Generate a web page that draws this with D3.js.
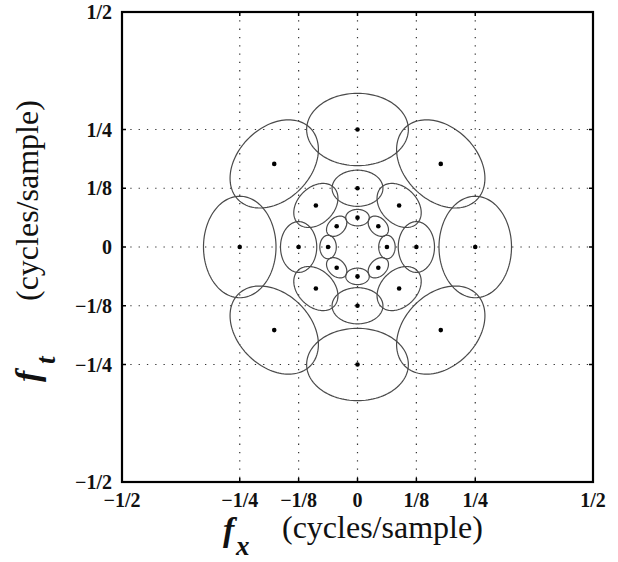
<!DOCTYPE html>
<html>
<head>
<meta charset="utf-8">
<script src="https://cdn.jsdelivr.net/npm/d3@7"></script>
<style>
  html, body { margin: 0; padding: 0; background: #fff; }
  svg { display: block; }
</style>
</head>
<body>
<svg id="chart" width="618" height="562"></svg>
<script>
// ---- data ----
const tickValues = [-0.5, -0.25, -0.125, 0, 0.125, 0.25, 0.5];
const tickLabels = ["\u22121/2", "\u22121/4", "\u22121/8", "0", "1/8", "1/4", "1/2"];
const gridValues = [-0.25, -0.125, 0, 0.125, 0.25];
const ringRadii = [1/16, 1/8, 1/4];            // distance of ellipse centres from origin
const radialSemiAxes = [0.0175, 0.0385, 0.077]; // semi-axis along the radius
const tangentialSemiAxes = [0.025, 0.054, 0.108]; // semi-axis across the radius
const centreAnglesDeg = [0, 45, 90, 135, 180, 225, 270, 315];
const xAxisLabel = { symbol: "f", sub: "x", text: "(cycles/sample)" };
const yAxisLabel = { symbol: "f", sub: "t", text: "(cycles/sample)" };

// ---- layout ----
const svg = d3.select("#chart");
const x = d3.scaleLinear().domain([-0.5, 0.5]).range([122, 593]);
const y = d3.scaleLinear().domain([-0.5, 0.5]).range([482, 12]);
const serif = "'Liberation Serif', 'Times New Roman', Times, serif";

// grid
const grid = svg.append("g").attr("stroke", "#333").attr("stroke-width", 1.2)
  .attr("stroke-dasharray", "1.3 7");
grid.selectAll("line.v").data(gridValues).join("line").attr("class", "v")
  .attr("x1", d => x(d)).attr("x2", d => x(d)).attr("y1", y(0.5)).attr("y2", y(-0.5));
grid.selectAll("line.h").data(gridValues).join("line").attr("class", "h")
  .attr("y1", d => y(d)).attr("y2", d => y(d)).attr("x1", x(-0.5)).attr("x2", x(0.5));

// ellipses
const items = [];
ringRadii.forEach((r, i) => {
  centreAnglesDeg.forEach(a => {
    items.push({ r, a: a * Math.PI / 180, ar: radialSemiAxes[i], at: tangentialSemiAxes[i] });
  });
});
const ts = d3.range(0, 361, 3).map(d => d * Math.PI / 180);
const line = d3.line().x(p => x(p[0])).y(p => y(p[1]));
function ellipsePts(it) {
  const cx = it.r * Math.cos(it.a), cy = it.r * Math.sin(it.a);
  const ur = [Math.cos(it.a), Math.sin(it.a)], ut = [-Math.sin(it.a), Math.cos(it.a)];
  return ts.map(t => [cx + it.ar * Math.cos(t) * ur[0] + it.at * Math.sin(t) * ut[0],
                      cy + it.ar * Math.cos(t) * ur[1] + it.at * Math.sin(t) * ut[1]]);
}
svg.append("g").attr("fill", "none").attr("stroke", "#4a4a4a").attr("stroke-width", 1.2)
  .selectAll("path").data(items).join("path").attr("d", d => line(ellipsePts(d)));
svg.append("g").attr("fill", "#000")
  .selectAll("circle").data(items).join("circle")
  .attr("cx", d => x(d.r * Math.cos(d.a))).attr("cy", d => y(d.r * Math.sin(d.a))).attr("r", 2.3);

// ticks (inside)
const tk = svg.append("g").attr("stroke", "#000").attr("stroke-width", 1.5);
gridValues.forEach(v => {
  tk.append("line").attr("x1", x(v)).attr("x2", x(v)).attr("y1", y(-0.5)).attr("y2", y(-0.5) - 4);
  tk.append("line").attr("x1", x(v)).attr("x2", x(v)).attr("y1", y(0.5)).attr("y2", y(0.5) + 4);
  tk.append("line").attr("y1", y(v)).attr("y2", y(v)).attr("x1", x(-0.5)).attr("x2", x(-0.5) + 4);
  tk.append("line").attr("y1", y(v)).attr("y2", y(v)).attr("x1", x(0.5)).attr("x2", x(0.5) - 4);
});

// box
svg.append("rect").attr("x", x(-0.5)).attr("y", y(0.5))
  .attr("width", x(0.5) - x(-0.5)).attr("height", y(-0.5) - y(0.5))
  .attr("fill", "none").attr("stroke", "#000").attr("stroke-width", 2.2);

// tick labels
const lab = svg.append("g").attr("font-family", serif).attr("font-weight", "bold")
  .attr("font-size", 20).attr("fill", "#111");
lab.selectAll("text.xl").data(tickValues).join("text").attr("class", "xl")
  .attr("x", d => x(d)).attr("y", 507).attr("text-anchor", "middle")
  .text((d, i) => tickLabels[i]);
lab.selectAll("text.yl").data(tickValues).join("text").attr("class", "yl")
  .attr("x", 112).attr("y", d => y(d) + 7).attr("text-anchor", "end")
  .text((d, i) => tickLabels[i]);

// x axis label
const xl = svg.append("g").attr("font-family", serif).attr("fill", "#111");
xl.append("text").attr("x", 223).attr("y", 541).attr("font-size", 34)
  .attr("font-style", "italic").attr("font-weight", "bold").text(xAxisLabel.symbol);
xl.append("text").attr("x", 236).attr("y", 555).attr("font-size", 27)
  .attr("font-style", "italic").attr("font-weight", "bold").text(xAxisLabel.sub);
xl.append("text").attr("x", 282).attr("y", 538).attr("font-size", 32)
  .text(xAxisLabel.text);

// y axis label
const yl = svg.append("g").attr("font-family", serif).attr("fill", "#111");
yl.append("text").attr("transform", "translate(39,382) rotate(-90)").attr("font-size", 34)
  .attr("font-style", "italic").attr("font-weight", "bold").text(yAxisLabel.symbol);
yl.append("text").attr("transform", "translate(55,364) rotate(-90)").attr("font-size", 27)
  .attr("font-style", "italic").attr("font-weight", "bold").text(yAxisLabel.sub);
yl.append("text").attr("transform", "translate(38,301) rotate(-90)").attr("font-size", 32)
  .text(yAxisLabel.text);
</script>
</body>
</html>
